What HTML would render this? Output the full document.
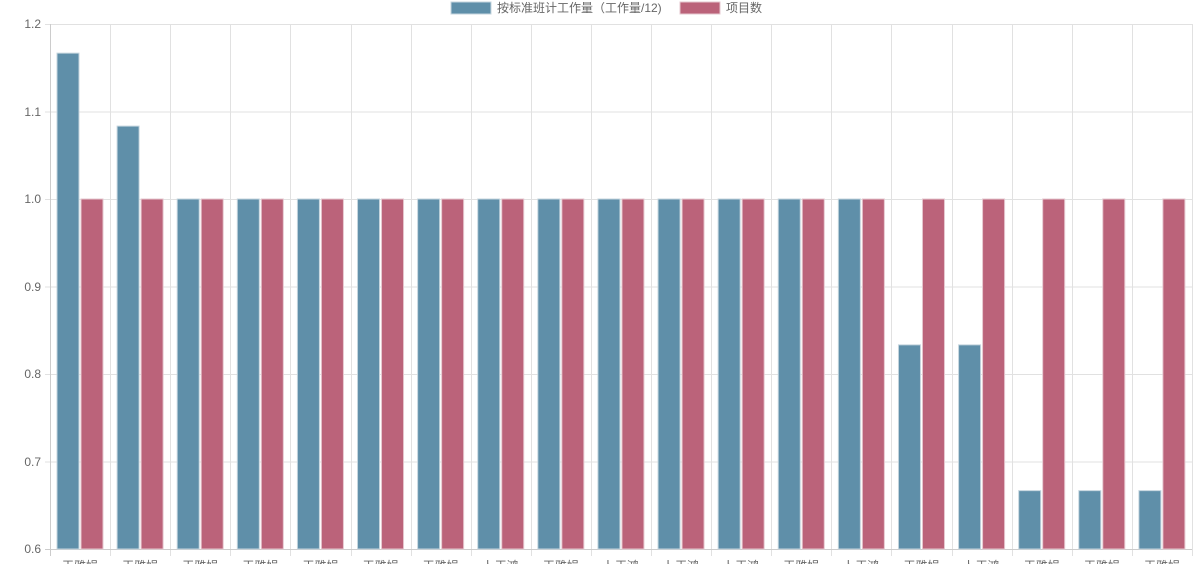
<!DOCTYPE html>
<html><head><meta charset="utf-8"><style>body{margin:0;background:#fff;}svg{display:block;font-family:"Liberation Sans","Noto Sans CJK SC",sans-serif;}</style></head>
<body>
<svg width="1199" height="564" xmlns="http://www.w3.org/2000/svg">
<g stroke="#e1e1e1" stroke-width="1">
<line x1="45" y1="24.5" x2="1192" y2="24.5"/><line x1="45" y1="112" x2="1192" y2="112"/><line x1="45" y1="199.5" x2="1192" y2="199.5"/><line x1="45" y1="287" x2="1192" y2="287"/><line x1="45" y1="374.5" x2="1192" y2="374.5"/><line x1="45" y1="462" x2="1192" y2="462"/>
</g>
<g id="v" stroke="#e1e1e1"></g>
<line x1="45" y1="549.5" x2="1192" y2="549.5" stroke="#ccc"/>
<line x1="50.5" y1="24" x2="50.5" y2="556" stroke="#ccc"/>
<g font-size="12" fill="#666" text-anchor="end">
<text x="41" y="28">1.2</text><text x="41" y="116">1.1</text><text x="41" y="203">1.0</text><text x="41" y="291">0.9</text><text x="41" y="378">0.8</text><text x="41" y="466">0.7</text><text x="41" y="553">0.6</text>
</g>
<g id="bars"></g>
<g font-size="12" fill="#666">
<rect x="451" y="2" width="40" height="12" fill="#5f8fa9" stroke="#c4d5de"/>
<text x="497" y="12">按标准班计工作量（工作量/12)</text>
<rect x="680" y="2" width="40" height="12" fill="#bb637a" stroke="#e6c7cf"/>
<text x="726" y="12">项目数</text>
</g>
<script>
var blue=[1.1667,1.0833,1,1,1,1,1,1,1,1,1,1,1,1,0.8333,0.8333,0.6667,0.6667,0.6667];
var lab=[0,0,0,0,0,0,0,1,0,1,1,1,0,1,0,1,0,0,0];
var ns="http://www.w3.org/2000/svg",g=document.getElementById('bars'),vg=document.getElementById('v');
function Y(v){return 24+(1.2-v)/0.6*525;}
var w=(1192-50)/19;
for(var i=0;i<19;i++){
 var s=50+i*w;
 var l=document.createElementNS(ns,'line');l.setAttribute('x1',Math.round(s+w)+0.5);l.setAttribute('x2',Math.round(s+w)+0.5);l.setAttribute('y1',24);l.setAttribute('y2',556);vg.appendChild(l);
 [[blue[i],7,'#5f8fa9','#c4d5de'],[1,31,'#bb637a','#e6c7cf']].forEach(function(b){
  var r=document.createElementNS(ns,'rect');var y=Y(b[0]);
  r.setAttribute('x',s+b[1]);r.setAttribute('y',y);r.setAttribute('width',22);r.setAttribute('height',549-y);
  r.setAttribute('fill',b[2]);r.setAttribute('stroke',b[3]);r.setAttribute('stroke-width',1);g.appendChild(r);});
 var t=document.createElementNS(ns,'text');t.setAttribute('x',s+w/2);t.setAttribute('y',570);t.setAttribute('text-anchor','middle');t.setAttribute('font-size','12');t.setAttribute('fill','#666');
 t.textContent=lab[i]?'卜王鸿':'王雅娟';g.appendChild(t);
}
</script>
</svg>
</body></html>
